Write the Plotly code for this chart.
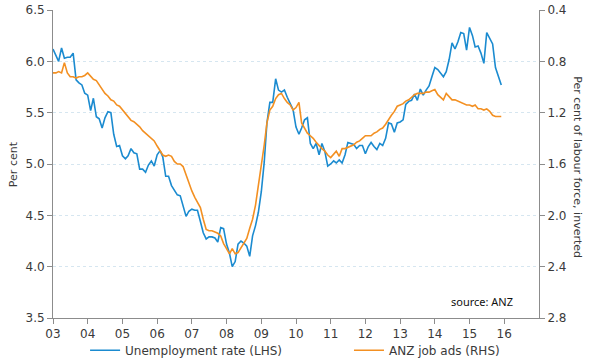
import pandas as pd
import plotly.graph_objects as go

# Monthly observations, Jan 2003 - Dec 2015
months = pd.date_range("2003-01-01", periods=156, freq="MS")

unemployment_rate = [
    6.12, 6.06, 6.00, 6.13, 6.03, 6.04, 6.04, 6.08, 5.82, 5.79, 5.77, 5.69,
    5.67, 5.52, 5.64, 5.46, 5.44, 5.35, 5.45, 5.51, 5.50, 5.29, 5.17, 5.18,
    5.08, 5.05, 5.08, 5.15, 5.11, 5.10, 4.95, 4.95, 4.92, 4.99, 5.03, 4.98,
    5.09, 5.13, 5.07, 4.88, 4.88, 4.79, 4.74, 4.70, 4.69, 4.60, 4.49, 4.54,
    4.56, 4.55, 4.55, 4.44, 4.33, 4.27, 4.29, 4.29, 4.28, 4.24, 4.38, 4.37,
    4.22, 4.13, 4.00, 4.05, 4.22, 4.25, 4.23, 4.20, 4.10, 4.30, 4.40, 4.53,
    4.73, 5.02, 5.40, 5.60, 5.60, 5.83, 5.72, 5.70, 5.72, 5.65, 5.59, 5.53,
    5.36, 5.29, 5.35, 5.43, 5.45, 5.20, 5.15, 5.20, 5.09, 5.20, 5.12, 4.98,
    5.00, 5.03, 5.01, 5.04, 5.01, 5.09, 5.21, 5.20, 5.19, 5.15, 5.18, 5.18,
    5.10, 5.17, 5.21, 5.17, 5.14, 5.20, 5.18, 5.25, 5.40, 5.39, 5.31, 5.40,
    5.41, 5.43, 5.58, 5.61, 5.62, 5.68, 5.62, 5.73, 5.67, 5.72, 5.76, 5.85,
    5.94, 5.92, 5.89, 5.85, 5.90, 6.02, 6.18, 6.12, 6.19, 6.28, 6.27, 6.11,
    6.33, 6.25, 6.14, 6.15, 6.08, 5.98, 6.28, 6.23, 6.17, 5.94, 5.85, 5.77,
]

anz_job_ads = [
    0.89, 0.89, 0.88, 0.89, 0.81, 0.89, 0.92, 0.92, 0.93, 0.92, 0.92, 0.91,
    0.89, 0.92, 0.94, 0.95, 0.98, 1.02, 1.05, 1.07, 1.10, 1.11, 1.14, 1.15,
    1.18, 1.21, 1.23, 1.26, 1.27, 1.29, 1.31, 1.34, 1.36, 1.38, 1.40, 1.42,
    1.46, 1.50, 1.53, 1.54, 1.53, 1.54, 1.58, 1.60, 1.60, 1.62, 1.69, 1.75,
    1.81, 1.86, 1.90, 1.94, 2.03, 2.11, 2.12, 2.12, 2.13, 2.14, 2.16, 2.22,
    2.26, 2.30, 2.26, 2.30, 2.29, 2.25, 2.21, 2.18, 2.10, 2.03, 1.92, 1.77,
    1.62, 1.45, 1.28, 1.18, 1.15, 1.09, 1.06, 1.05, 1.09, 1.12, 1.14, 1.18,
    1.16, 1.12, 1.28, 1.32, 1.36, 1.38, 1.40, 1.43, 1.46, 1.48, 1.50, 1.53,
    1.55, 1.52, 1.50, 1.54, 1.48, 1.48, 1.47, 1.46, 1.45, 1.43, 1.42, 1.40,
    1.38, 1.38, 1.38, 1.36, 1.35, 1.33, 1.32, 1.29, 1.25, 1.22, 1.19, 1.15,
    1.14, 1.13, 1.11, 1.10, 1.08, 1.06, 1.05, 1.05, 1.05, 1.04, 1.04, 1.03,
    1.02, 1.06, 1.08, 1.10, 1.05, 1.08, 1.10, 1.10, 1.11, 1.12, 1.13, 1.14,
    1.14, 1.15, 1.14, 1.17, 1.17, 1.18, 1.17, 1.19, 1.22, 1.23, 1.23, 1.23,
]

year_ticks = [f"{y}-01-01" for y in range(2003, 2017)]
year_labels = ["03", "04", "05", "06", "07", "08", "09", "10", "11", "12", "13", "14", "15", "16"]
left_ticks = [3.5, 4.0, 4.5, 5.0, 5.5, 6.0, 6.5]
right_ticks = [0.4, 0.8, 1.2, 1.6, 2.0, 2.4, 2.8]

BLUE = "#1b8bd0"
ORANGE = "#f39022"
AXIS = "#8c8c8c"
TXT = "#3a3a3a"
FONT = "DejaVu Sans, Verdana, sans-serif"

fig = go.Figure()
fig.add_trace(go.Scatter(x=months, y=unemployment_rate, mode="lines",
                         name="Unemployment rate (LHS)", legend="legend",
                         line=dict(color=BLUE, width=1.6)))
fig.add_trace(go.Scatter(x=months, y=anz_job_ads, mode="lines",
                         name="ANZ job ads (RHS)", yaxis="y2", legend="legend2",
                         line=dict(color=ORANGE, width=1.6)))

legend_common = dict(orientation="h", yref="paper", y=-0.0575,
                     xanchor="left", yanchor="top",
                     font=dict(size=12, color=TXT), bgcolor="rgba(0,0,0,0)",
                     itemwidth=30)

fig.update_layout(
    width=601, height=360,
    margin=dict(l=53, r=62, t=10, b=42, autoexpand=False),
    paper_bgcolor="white", plot_bgcolor="white",
    font=dict(family=FONT, size=12, color=TXT),
    showlegend=True,
    legend=dict(x=0.066, **legend_common),
    legend2=dict(x=0.609, **legend_common),
    xaxis=dict(type="date", range=["2003-01-01", "2017-01-01"],
               tickvals=year_ticks, ticktext=year_labels,
               showgrid=False, zeroline=False,
               showline=True, linecolor=AXIS, linewidth=1,
               ticks="outside", ticklen=5, tickcolor=AXIS,
               tickfont=dict(size=12, color=TXT)),
    yaxis=dict(range=[3.5, 6.5], tickvals=left_ticks, tickformat=".1f",
               showgrid=True, gridcolor="#d6e6f0", griddash="dot", gridwidth=1,
               zeroline=False, showline=True, linecolor=AXIS, linewidth=1,
               ticks="outside", ticklen=5, tickcolor=AXIS,
               tickfont=dict(size=12, color=TXT)),
    yaxis2=dict(range=[2.8, 0.4], tickvals=right_ticks, tickformat=".1f",
                overlaying="y", side="right", showgrid=False, zeroline=False,
                showline=True, linecolor=AXIS, linewidth=1,
                ticks="outside", ticklen=5, tickcolor=AXIS,
                tickfont=dict(size=12, color=TXT)),
    annotations=[
        dict(text="Per cent", xref="paper", yref="paper", x=-0.082, y=0.5,
             showarrow=False, textangle=-90, font=dict(size=11, color=TXT),
             xanchor="center", yanchor="middle"),
        dict(text="Per cent of labour force, inverted", xref="paper", yref="paper",
             x=1.080, y=0.49, showarrow=False, textangle=90,
             font=dict(size=11, color=TXT), xanchor="center", yanchor="middle"),
        dict(text="source: ANZ", xref="paper", yref="paper", x=0.951, y=0.055,
             showarrow=False, xanchor="right", yanchor="middle",
             font=dict(size=11, color="#111111", family="Noto Sans, sans-serif")),
    ],
)

fig.write_html("out.html", config={"displayModeBar": False},
               post_script="document.body.style.margin='0px';")
